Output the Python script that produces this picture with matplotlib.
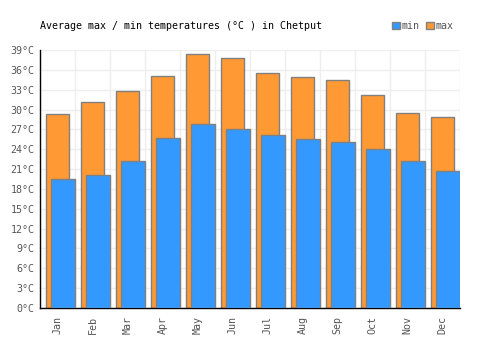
import numpy as np
import matplotlib.pyplot as plt

months = ['Jan', 'Feb', 'Mar', 'Apr', 'May', 'Jun', 'Jul', 'Aug', 'Sep', 'Oct', 'Nov', 'Dec']
t_max = [29.3, 31.2, 32.8, 35.1, 38.4, 37.8, 35.5, 34.9, 34.5, 32.2, 29.5, 28.9]
t_min = [19.5, 20.1, 22.2, 25.7, 27.8, 27.0, 26.1, 25.6, 25.1, 24.0, 22.2, 20.7]
yticks = np.arange(0, 40, 3)

plt.rcParams['font.family'] = ['DejaVu Sans Mono']
fs = 7.2

fig = plt.figure(figsize=(5, 3.5), dpi=100)
ax = fig.add_axes([40/500, 1-308/350, 420/500, 258/350])

x = np.arange(len(months))
ax.bar(x - 0.329, t_max, width=0.671, align='edge', color='#ff9933',
       edgecolor='#808080', linewidth=1, label='max', zorder=2)
ax.bar(x - 0.186, t_min, width=0.70, align='edge', color='#3399ff',
       edgecolor='#808080', linewidth=1, label='min', zorder=3)

ax.set_xlim(-0.5, 11.5)
ax.set_ylim(0, 39)
ax.set_yticks(yticks)
ax.set_yticklabels([f'{v}°C' for v in yticks], fontsize=fs, color='#555555')
ax.set_xticks(x)
ax.set_xticklabels(months, rotation=90, fontsize=fs, color='#555555')
ax.set_xticks(np.arange(-0.5, 12, 1), minor=True)
ax.tick_params(axis='x', which='both', length=0, pad=6)
ax.tick_params(axis='y', length=0, pad=4)
ax.grid(True, which='minor', axis='x', color='#eeeeee', linewidth=1, zorder=0)
ax.grid(True, which='major', axis='y', color='#eeeeee', linewidth=1, zorder=0)
for s in ['top', 'right']:
    ax.spines[s].set_visible(False)
for s in ['left', 'bottom']:
    ax.spines[s].set_color('black')
    ax.spines[s].set_linewidth(1)

fig.text(40/500, 1-26/350, 'Average max / min temperatures (°C ) in Chetput',
         fontsize=fs, va='center', ha='left', color='black')

h, l = ax.get_legend_handles_labels()
leg = fig.legend(h[::-1], l[::-1], loc='center right', bbox_to_anchor=(454/500, 1-26/350),
                 ncol=2, frameon=False, fontsize=fs, handlelength=0.8, handleheight=0.8,
                 handletextpad=0.2, columnspacing=0.6, borderaxespad=0, borderpad=0)
for t in leg.get_texts():
    t.set_color('#555555')

fig.savefig('out.png', dpi=100)
